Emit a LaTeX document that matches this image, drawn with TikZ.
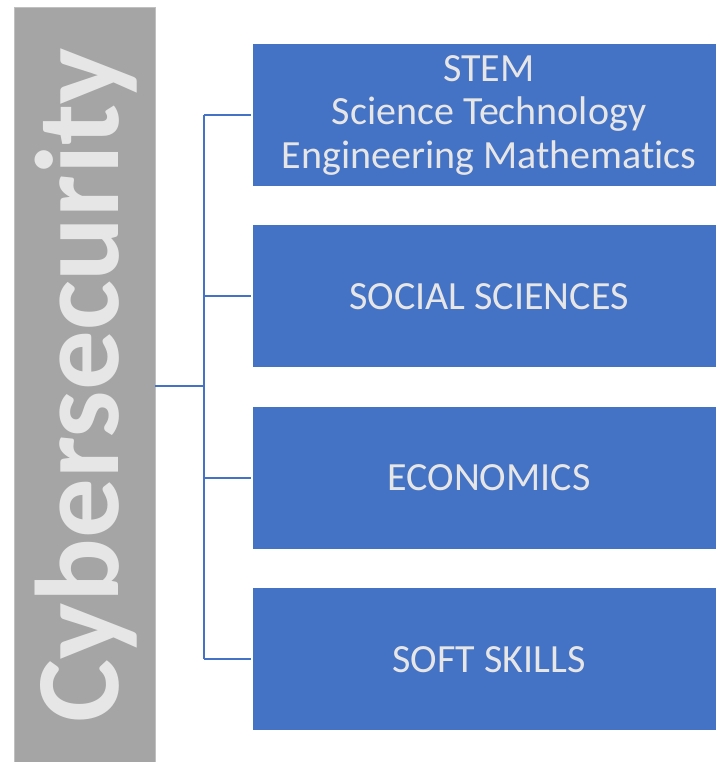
\documentclass[tikz,border=0pt]{standalone}
\usepackage{fontspec}
\setmainfont{Carlito}[RawFeature={-liga;-clig;-dlig;-calt}]
\usetikzlibrary{positioning}
\definecolor{boxblue}{HTML}{4472C4}
\definecolor{bargray}{HTML}{A5A5A5}
\definecolor{textgray}{HTML}{E7E6E6}

\begin{document}
\begin{tikzpicture}[x=1pt,y=-1pt,
  area/.style={fill=boxblue,minimum width=472pt,minimum height=142pt,inner sep=0pt,
    text=textgray,align=center,font=\fontsize{40}{43.5}\selectfont},
  bar/.style={fill=bargray,draw=bargray!70!white,line width=0.8pt,minimum width=141pt,minimum height=760pt,inner sep=0pt},
  link/.style={draw=boxblue,line width=2pt}]
\useasboundingbox (0,0) rectangle (715,762);
\node[bar] (bar) at (84.5,387) {};
\node[rotate=90,anchor=base,text=textgray,font=\fontsize{119}{119}\bfseries\selectfont] (cyber) at (118,385) {Cybersecurity};

\node[area] (stem) at (489,115) {STEM\\Science Technology\\Engineering Mathematics};
\node[area,below=39pt of stem] (social) {SOCIAL SCIENCES};
\node[area,below=39pt of social] (econ) {ECONOMICS};
\node[area,below=39pt of econ] (soft) {SOFT SKILLS};

\coordinate (hub) at (204,386);
\draw[link] (bar.east |- hub) -- (hub);
\draw[link] (hub |- stem.west) -- (hub |- soft.west);
\foreach \b in {stem,social,econ,soft}
  \draw[link] (hub |- \b.west) -- ([xshift=-2pt]\b.west);
\end{tikzpicture}
\end{document}
